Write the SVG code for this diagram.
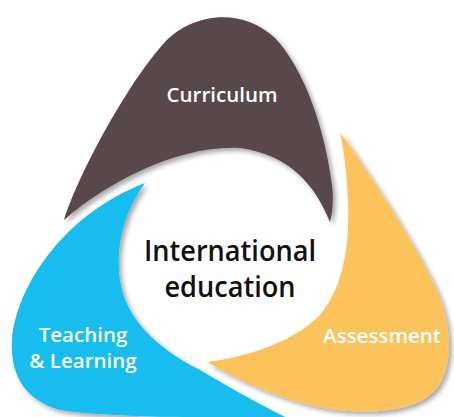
<svg xmlns="http://www.w3.org/2000/svg" width="454" height="417" viewBox="0 0 454 417">
<defs>
<filter id="sh" x="-10%" y="-10%" width="130%" height="130%">
<feDropShadow dx="3" dy="3" stdDeviation="2.5" flood-color="#000" flood-opacity="0.35"/>
</filter>
<style>
.lbl{font-family:"Open Sans","Noto Sans",sans-serif;font-weight:600;font-size:20.5px;fill:#fff;text-anchor:middle}
.ctr{font-family:"Open Sans","Noto Sans",sans-serif;font-weight:600;font-size:28px;fill:#111;text-anchor:middle}
.blade{filter:url(#sh)}
</style>
</defs>
<rect width="454" height="417" fill="#fff"/>
<g id="teaching-learning">
<path class="blade" fill="#16bdee" d="M145,183 C125,210 115,245 120,280 C125,320 160,350 200,370 C225,385 255,402 285,417 C230,418 110,418 60,410 C25,400 10,375 12,340 C16,288 62,215 145,183 Z"/>
<text class="lbl" x="83" y="342">Teaching</text>
<text class="lbl" x="83" y="368">&amp; Learning</text>
</g>
<g id="assessment">
<path class="blade" fill="#fcc35b" d="M340,132 C370,175 410,235 432,280 C455,325 455,375 430,395 C405,415 350,415 310,405 C270,395 235,378 207,362 C240,358 290,345 320,315 C345,285 350,240 348,200 C347,170 343,145 340,132 Z"/>
<text class="lbl" x="382" y="343">Assessment</text>
</g>
<g id="curriculum">
<path class="blade" fill="#59464b" d="M64,220 C80,170 130,80 165,42 C190,15 240,5 275,38 C305,70 325,130 332,185 C334,200 332,215 330,222 C315,185 290,155 240,148 C180,145 110,180 64,220 Z"/>
<text class="lbl" x="222" y="102">Curriculum</text>
</g>
<g id="center">
<text class="ctr" x="230" y="261" textLength="172" lengthAdjust="spacingAndGlyphs">International</text>
<text class="ctr" x="230" y="297" textLength="131" lengthAdjust="spacingAndGlyphs">education</text>
</g>
<g id="connectors"/>
</svg>
